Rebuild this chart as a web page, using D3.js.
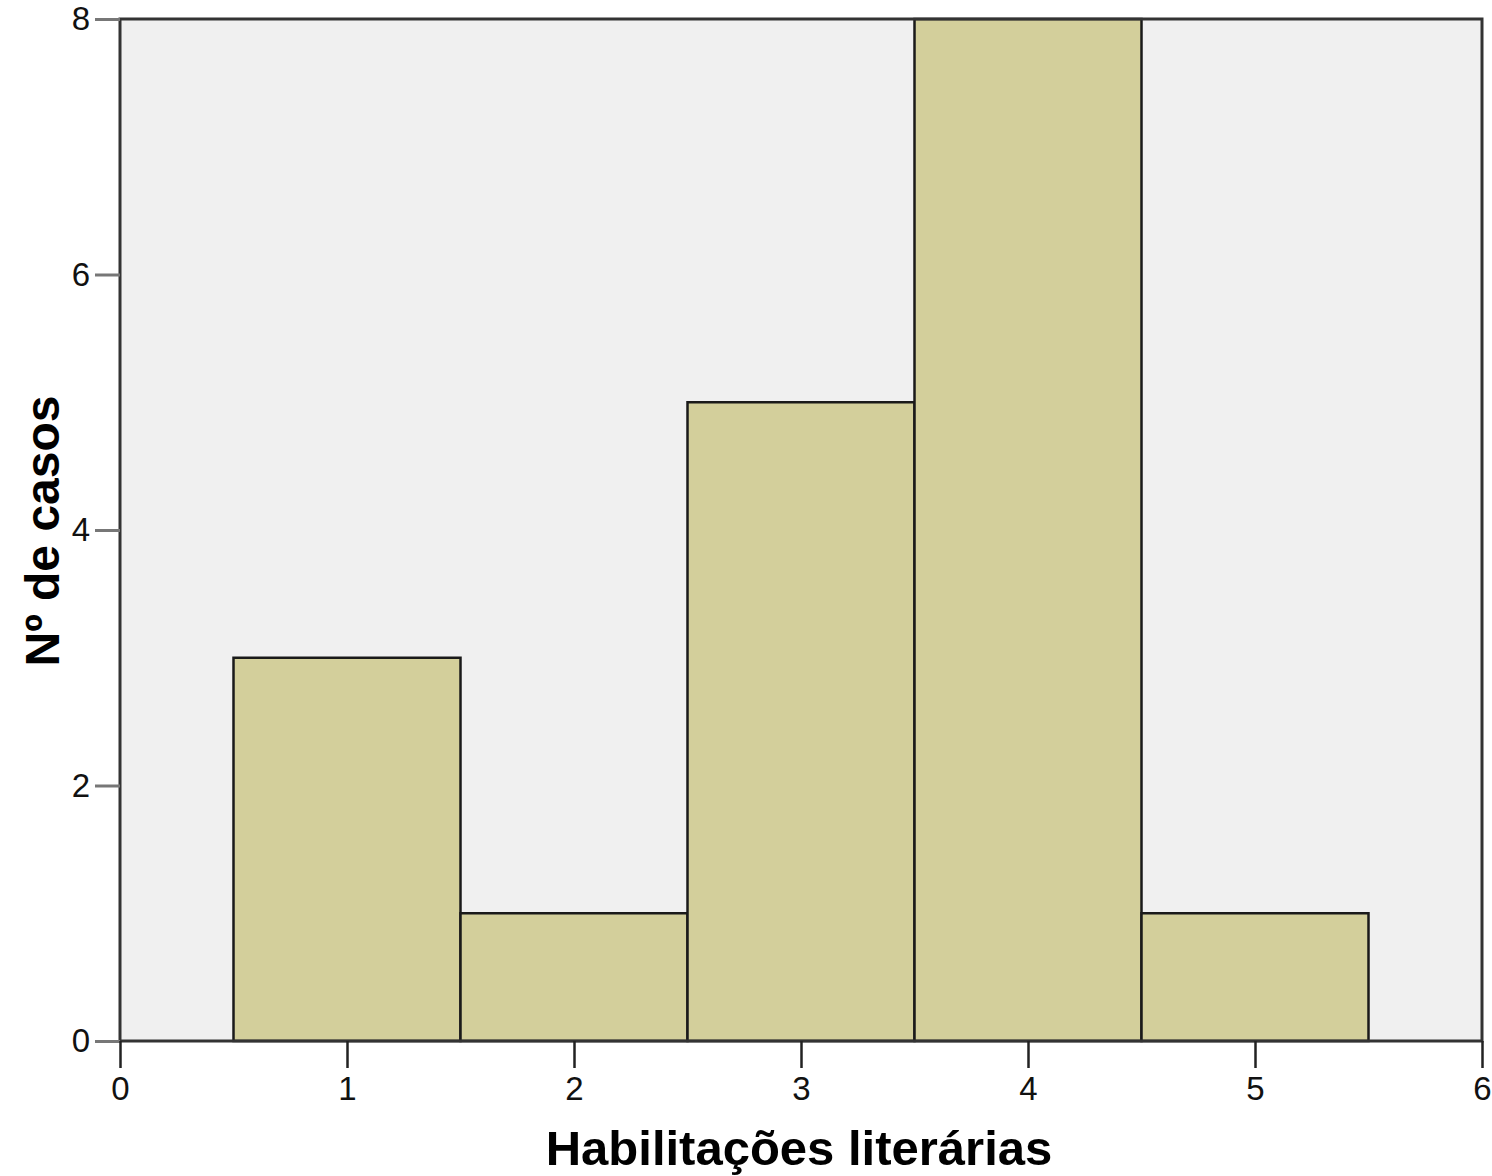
<!DOCTYPE html>
<html>
<head>
<meta charset="utf-8">
<script src="https://cdn.jsdelivr.net/npm/d3@7"></script>
<style>
  body { margin: 0; background: #fff; }
  svg { display: block; }
</style>
</head>
<body>
<div id="chart"></div>
<script>
// Centro de cada classe e o nº de casos lido no histograma
const binCenters = [1, 2, 3, 4, 5];
const counts = [3, 1, 5, 8, 1];
const xTicks = [0, 1, 2, 3, 4, 5, 6];
const yTicks = [0, 2, 4, 6, 8];

const W = 1492, H = 1176;
const margin = { top: 19, right: 10, bottom: 135, left: 120 };
const width = 1482 - margin.left;
const height = 1041 - margin.top;

const svg = d3.select('#chart').append('svg')
  .attr('width', W).attr('height', H);
const g = svg.append('g').attr('transform', `translate(${margin.left},${margin.top})`);

const x = d3.scaleLinear().domain([0, 6]).range([0, width]);
const y = d3.scaleLinear().domain([0, 8]).range([height, 0]);

// fundo da área do gráfico
g.append('rect')
  .attr('width', width).attr('height', height)
  .attr('fill', '#f0f0f0');

// barras
g.selectAll('.bar')
  .data(binCenters.map((c, i) => ({ c, n: counts[i] })))
  .enter().append('rect')
  .attr('class', 'bar')
  .attr('x', d => x(d.c - 0.5))
  .attr('width', d => x(d.c + 0.5) - x(d.c - 0.5))
  .attr('y', d => y(d.n))
  .attr('height', d => height - y(d.n))
  .attr('fill', '#d3cf9b')
  .attr('stroke', '#1a1a1a')
  .attr('stroke-width', 2.5);

// moldura
g.append('rect')
  .attr('width', width).attr('height', height)
  .attr('fill', 'none')
  .attr('stroke', '#333').attr('stroke-width', 3);

const fmt = d3.format('d');

// eixo y
const yAxis = g.append('g')
  .call(d3.axisLeft(y).tickValues(yTicks).tickFormat(fmt).tickSize(25).tickPadding(5));
yAxis.select('.domain').remove();
yAxis.selectAll('line').attr('stroke', '#777').attr('stroke-width', 3);
yAxis.selectAll('text')
  .style('font-family', '"Liberation Sans Narrow", Arial, "Liberation Sans", sans-serif')
  .style('font-size', '33px').attr('fill', '#111');

// eixo x
const xAxis = g.append('g')
  .attr('transform', `translate(0,${height})`)
  .call(d3.axisBottom(x).tickValues(xTicks).tickFormat(fmt).tickSize(27).tickPadding(9));
xAxis.select('.domain').remove();
xAxis.selectAll('line').attr('stroke', '#222').attr('stroke-width', 2.5);
xAxis.selectAll('text')
  .style('font-family', '"Liberation Sans Narrow", Arial, "Liberation Sans", sans-serif')
  .style('font-size', '33px').attr('fill', '#111');

// títulos dos eixos
svg.append('text')
  .attr('x', 799).attr('y', 1165)
  .attr('text-anchor', 'middle')
  .style('font-family', 'Arial, "Liberation Sans", sans-serif')
  .style('font-size', '49px').style('font-weight', 'bold')
  .text('Habilitações literárias');

svg.append('text')
  .attr('transform', 'translate(59,531) rotate(-90)')
  .attr('text-anchor', 'middle')
  .style('font-family', 'Arial, "Liberation Sans", sans-serif')
  .style('font-size', '48px').style('font-weight', 'bold')
  .text('Nº de casos');
</script>
</body>
</html>
